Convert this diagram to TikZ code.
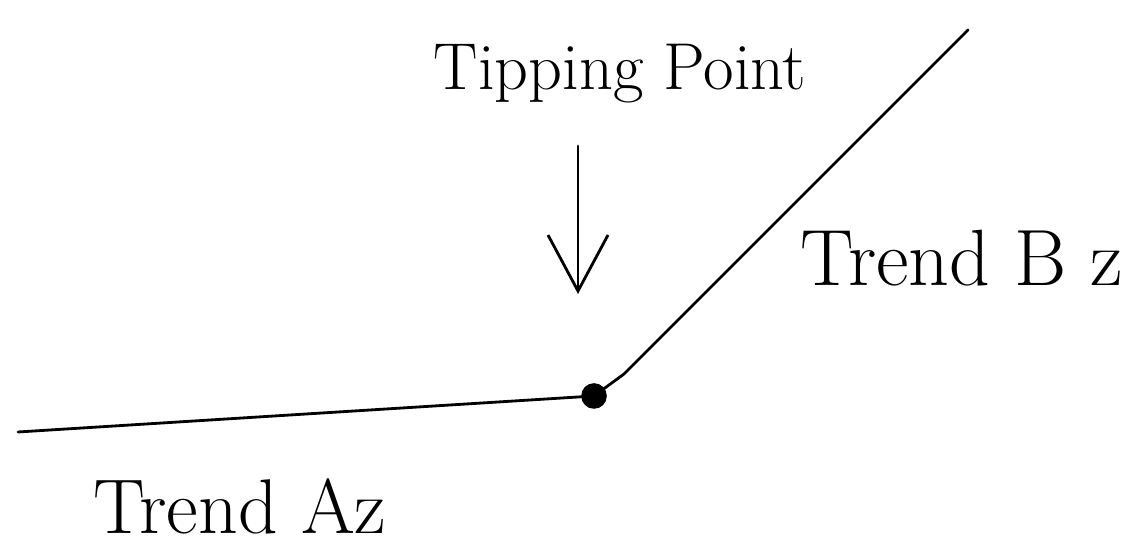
\documentclass[tikz,border=0pt]{standalone}
\usepackage{tikz}
\usetikzlibrary{arrows.meta}

\tikzset{
  sketch/.style={line width=2pt, line cap=round, line join=round},
  handtext/.style={font=\fontsize{40}{46}\selectfont, inner sep=0pt}
}

\begin{document}
\begin{tikzpicture}
\useasboundingbox (0, 0) rectangle (28.625, 13.95);

% trend lines meeting at the tipping point
\coordinate (Lend) at (0.45, 3.15);
\coordinate (Tp)   at (14.85, 4.05);
\coordinate (Uend) at (24.2, 13.2);
\draw[sketch] (Lend) -- (Tp);
\draw[sketch] (Tp) -- (15.6, 4.6) -- (Uend);
\fill (Tp) circle (0.32);

% label and pointer
\node[handtext, scale=1.18] (tiplabel) at (15.5, 12.1) {Tipping Point};
\coordinate (arrtop) at (14.45, 10.3);
\coordinate (arrtip) at (14.45, 6.6);
\draw[sketch, -{Straight Barb[length=1.4cm, width=1.5cm, line width=2pt]}]
  (arrtop) -- (arrtip);

% trend names
\node[handtext, scale=1.42] (trendB) at (24.05, 7.5) {Trend B z};
\node[handtext, scale=1.38] (trendA) at (6.0, 1.3) {Trend Az};
\end{tikzpicture}
\end{document}
